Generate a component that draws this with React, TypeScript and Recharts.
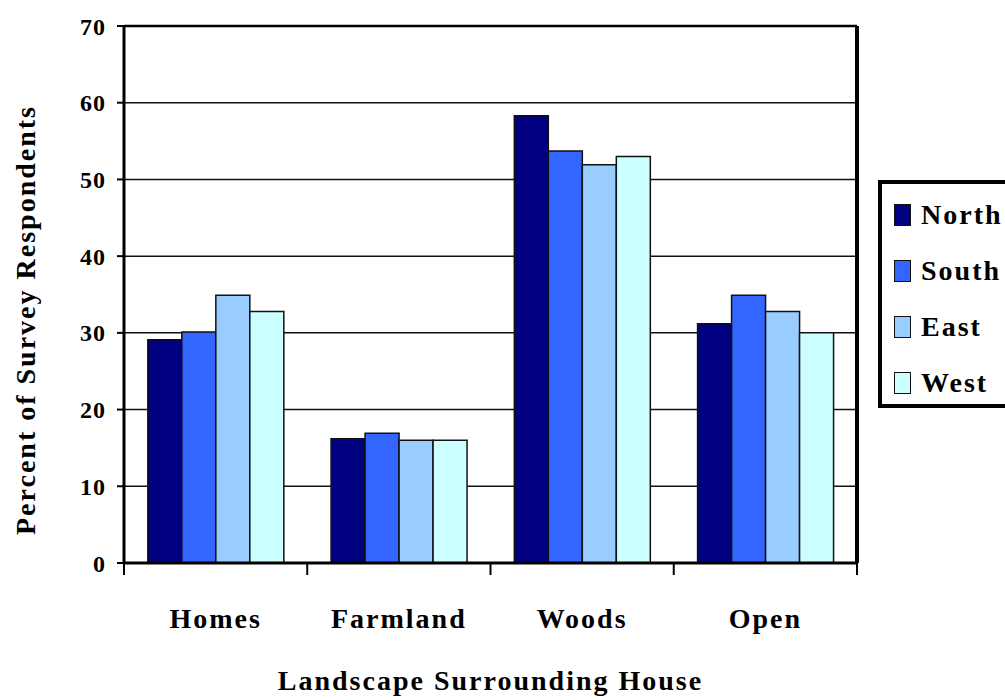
import React from "react";
import {
  BarChart,
  Bar,
  XAxis,
  YAxis,
  CartesianGrid,
  Label,
  ReferenceLine,
} from "recharts";

const categories = ["Homes", "Farmland", "Woods", "Open"];
const north = [29.1, 16.2, 58.3, 31.2];
const south = [30.1, 16.9, 53.7, 34.9];
const east = [34.9, 16.0, 51.9, 32.8];
const west = [32.8, 16.0, 53.0, 30.0];
const yTicks = [0, 10, 20, 30, 40, 50, 60, 70];

const seriesNames = ["North", "South", "East", "West"];
const seriesColors = ["#000080", "#3366FF", "#99CCFF", "#CCFFFF"];

const data = categories.map((c, i) => ({
  name: c,
  North: north[i],
  South: south[i],
  East: east[i],
  West: west[i],
}));

const FONT = "'Liberation Serif', 'Times New Roman', serif";
const W = 1005;
const H = 700;
const PLOT_LEFT = 124;
const PLOT_RIGHT = 857;
const PLOT_TOP = 26;
const PLOT_BOTTOM = 563;
const BAND = (PLOT_RIGHT - PLOT_LEFT) / categories.length;

const XTick = (props: any) => {
  const { x, y, payload, index } = props;
  const left = x - BAND / 2;
  const right = x + BAND / 2;
  return (
    <g>
      <line x1={left} y1={y} x2={left} y2={y + 12} stroke="#000" strokeWidth={2} />
      {index === categories.length - 1 && (
        <line x1={right} y1={y} x2={right} y2={y + 12} stroke="#000" strokeWidth={2} />
      )}
      <text
        x={x}
        y={y + 65}
        textAnchor="middle"
        fontFamily={FONT}
        fontWeight="bold"
        fontSize={28}
        letterSpacing={2}
        fill="#000"
      >
        {payload.value}
      </text>
    </g>
  );
};

const YTitle = () => {
  const cx = 25;
  const cy = 320;
  return (
    <text
      x={cx}
      y={cy}
      transform={`rotate(-90, ${cx}, ${cy})`}
      textAnchor="middle"
      dominantBaseline="central"
      fontFamily={FONT}
      fontWeight="bold"
      fontSize={28}
      letterSpacing={2}
      fill="#000"
    >
      Percent of Survey Respondents
    </text>
  );
};

export default function App() {
  return (
    <div
      style={{
        position: "absolute",
        left: 0,
        top: 0,
        width: W,
        height: H,
        overflow: "hidden",
        background: "#fff",
      }}
    >
      <BarChart
        width={W}
        height={H}
        data={data}
        margin={{ top: PLOT_TOP, right: W - PLOT_RIGHT - 1, left: 4, bottom: 0 }}
        barCategoryGap="13%"
        barGap={0}
      >
        <CartesianGrid
          vertical={false}
          stroke="#111"
          strokeWidth={1.5}
          horizontalValues={yTicks}
        />
        <XAxis
          dataKey="name"
          height={H - PLOT_BOTTOM}
          tickLine={false}
          tickSize={0}
          tickMargin={0}
          axisLine={{ stroke: "#000", strokeWidth: 3 }}
          tick={<XTick />}
          interval={0}
        >
          <Label
            value="Landscape Surrounding House"
            position="insideBottom"
            offset={10}
            fontFamily={FONT}
            fontWeight="bold"
            fontSize={28}
            letterSpacing={2}
            fill="#000"
          />
        </XAxis>
        <YAxis
          yAxisId={0}
          width={PLOT_LEFT - 4}
          domain={[0, 70]}
          ticks={yTicks}
          interval={0}
          tickSize={7}
          tickMargin={11}
          tickLine={{ stroke: "#000", strokeWidth: 2 }}
          axisLine={{ stroke: "#000", strokeWidth: 3 }}
          tick={{ fontFamily: FONT, fontWeight: "bold", fontSize: 24, fill: "#000", letterSpacing: 1 }}
        >
          <Label content={<YTitle />} />
        </YAxis>
        <YAxis
          yAxisId="right"
          orientation="right"
          width={1}
          domain={[0, 70]}
          ticks={yTicks}
          tick={false}
          tickLine={false}
          axisLine={{ stroke: "#000", strokeWidth: 4 }}
        />
        <ReferenceLine yAxisId={0} y={70} stroke="#000" strokeWidth={2.5} />
        {seriesNames.map((s, i) => (
          <Bar
            key={s}
            dataKey={s}
            yAxisId={0}
            fill={seriesColors[i]}
            stroke="#111"
            strokeWidth={1.5}
            isAnimationActive={false}
          />
        ))}
      </BarChart>
      <div
        style={{
          position: "absolute",
          left: 878,
          top: 180,
          width: 150,
          height: 220,
          border: "4px solid #000",
          background: "#fff",
          fontFamily: FONT,
          fontWeight: "bold",
          fontSize: 28,
          letterSpacing: 2,
        }}
      >
        {seriesNames.map((s, i) => (
          <div
            key={s}
            style={{
              position: "absolute",
              left: 12,
              top: 17 + i * 56,
              height: 28,
              display: "flex",
              alignItems: "center",
              whiteSpace: "nowrap",
            }}
          >
            <div
              style={{
                width: 15,
                height: 20,
                background: seriesColors[i],
                border: "1.5px solid #111",
                marginRight: 10,
              }}
            />
            <span style={{ lineHeight: "28px" }}>{s}</span>
          </div>
        ))}
      </div>
    </div>
  );
}
